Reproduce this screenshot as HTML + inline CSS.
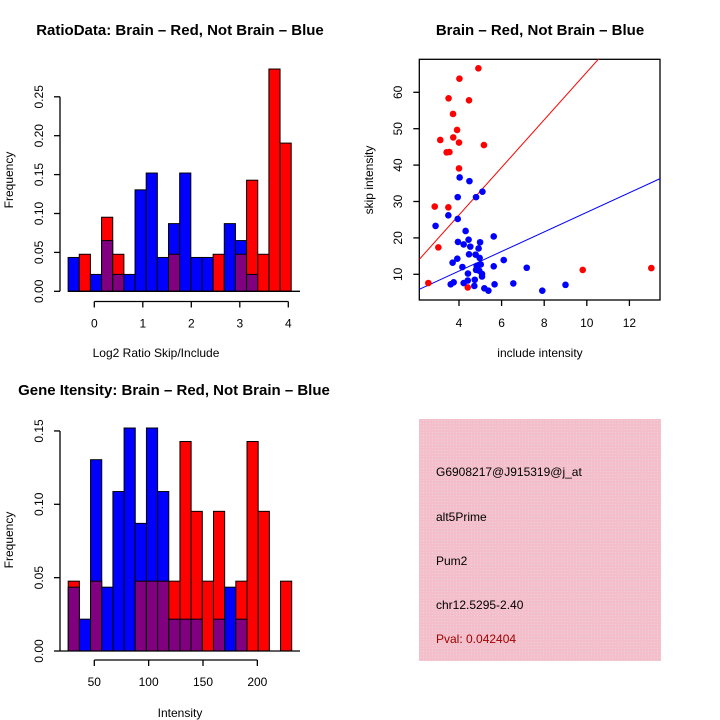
<!DOCTYPE html>
<html><head><meta charset="utf-8"><style>
html,body{margin:0;padding:0;background:#fff}
svg{display:block;font-family:"Liberation Sans",Arial,sans-serif}
</style></head><body>
<svg id="c" width="720" height="720" viewBox="0 0 720 720">
<defs>
<pattern id="hatch" width="3" height="3" patternUnits="userSpaceOnUse">
<rect width="3" height="3" fill="#f4bfcb"/><rect width="1" height="1" fill="#e9d3d8"/>
</pattern>
</defs>
<text x="180" y="35" text-anchor="middle" font-size="15" font-weight="bold">RatioData: Brain – Red, Not Brain – Blue</text>
<text x="540" y="35" text-anchor="middle" font-size="15" font-weight="bold">Brain – Red, Not Brain – Blue</text>
<text x="174" y="395" text-anchor="middle" font-size="15" font-weight="bold">Gene Itensity: Brain – Red, Not Brain – Blue</text>
<text x="156" y="357" text-anchor="middle" font-size="12">Log2 Ratio Skip/Include</text>
<text x="13" y="180" text-anchor="middle" font-size="12" transform="rotate(-90 13 180)">Frequency</text>
<text x="180" y="717" text-anchor="middle" font-size="12">Intensity</text>
<text x="13" y="540" text-anchor="middle" font-size="12" transform="rotate(-90 13 540)">Frequency</text>
<text x="540" y="357" text-anchor="middle" font-size="12">include intensity</text>
<text x="373" y="180" text-anchor="middle" font-size="12" transform="rotate(-90 373 180)">skip intensity</text>
<g>
<rect x="419" y="419" width="242" height="242" fill="url(#hatch)"/>
<text x="436" y="476" font-size="12">G6908217@J915319@j_at</text>
<text x="436" y="521" font-size="12">alt5Prime</text>
<text x="436" y="565" font-size="12">Pum2</text>
<text x="436" y="609" font-size="12">chr12.5295-2.40</text>
<text x="436" y="643" font-size="12" fill="#a00000">Pval: 0.042404</text>
</g>
</svg>
<script>
// ---- Ratio histogram data ----
const ratioBinStart = -0.54;
const ratioBinWidth = 0.23;
const ratioBlue = [0.0435,0,0.0217,0.0652,0.0217,0.0217,0.1304,0.152,0.0435,0.087,0.152,0.0435,0.0435,0,0.087,0.0652,0.0217,0,0,0];
const ratioRed  = [0,0.0476,0,0.0952,0.0476,0,0,0,0,0.0476,0,0,0,0.0476,0,0.0476,0.1428,0.0476,0.2857,0.1905];
const ratioXTicks = [0,1,2,3,4];
const ratioYTicks = [0,0.05,0.10,0.15,0.20,0.25];
const ratioYLabels = ["0.00","0.05","0.10","0.15","0.20","0.25"];
// ---- Intensity histogram data ----
const intBinStart = 26;
const intBinWidth = 10.28;
const intBlue = [0.0435,0.0217,0.1304,0.0435,0.1087,0.152,0.087,0.152,0.1087,0.0217,0.0217,0.0217,0,0.0217,0.0435,0.0217,0,0,0,0];
const intRed  = [0.0476,0,0.0476,0,0,0,0.0476,0.0476,0.0476,0.0476,0.1428,0.0952,0.0476,0.0952,0,0.0476,0.1428,0.0952,0,0.0476];
const intXTicks = [50,100,150,200];
const intYTicks = [0,0.05,0.10,0.15];
const intYLabels = ["0.00","0.05","0.10","0.15"];
// ---- Scatter data ----
const redX = [4.91,4.02,3.51,4.47,3.72,3.91,3.73,3.12,4.0,5.17,3.42,3.55,4.0,2.86,3.5,3.03,2.56,4.41,9.81,13.03];
const redY = [66.6,63.75,58.35,57.8,54.05,49.65,47.6,46.9,46.2,45.5,43.5,43.6,39.1,28.6,28.4,17.4,7.6,6.4,11.2,11.7];
const blueX = [4.03,4.49,5.1,3.94,4.8,3.5,3.94,2.9,4.31,5.63,3.95,4.45,4.99,4.22,4.53,4.92,4.47,4.78,4.97,3.92,6.1,3.7,4.16,4.83,5.02,5.63,7.18,4.8,4.95,4.42,5.08,5.08,4.74,4.41,3.75,3.61,4.22,4.72,5.67,6.55,9.0,5.19,5.38,7.91];
const blueY = [36.6,35.6,32.7,31.2,31.2,26.2,25.2,23.3,21.9,20.4,18.9,19.5,18.8,18.2,17.6,17.1,15.5,15.4,14.5,14.3,13.9,13.2,12.0,12.3,12.7,12.2,11.8,11.2,11.0,10.2,10.1,9.4,8.5,8.3,7.8,7.25,7.6,6.8,7.25,7.5,7.1,6.15,5.5,5.5];
const redFit = [0.13,6.54];
const blueFit = [0.13,2.69];
const scatXTicks = [4,6,8,10,12];
const scatYTicks = [10,20,30,40,50,60];

const svg = document.getElementById('c');
const NS = 'http://www.w3.org/2000/svg';
function mk(tag, attrs){ const e=document.createElementNS(NS,tag); for(const k in attrs) e.setAttribute(k,attrs[k]); svg.appendChild(e); return e; }

function histogram(blue, red, binStart, binW, sx, sy, x0, x1, y0, prefix, xt, yt, yl, xAxisY, yAxisX){
  for(let i=0;i<blue.length;i++){
    const a=sx(binStart+i*binW), b=sx(binStart+(i+1)*binW);
    const bv=blue[i], rv=red[i];
    const hi=Math.max(bv,rv), lo=Math.min(bv,rv);
    if(hi>0){
      const r=mk('rect',{x:a,y:sy(hi),width:b-a,height:sy(0)-sy(hi),fill:bv>=rv?'#0000ff':'#ff0000',stroke:'#000','stroke-width':1});
      
      
    }
    if(lo>0){
      const r=mk('rect',{x:a,y:sy(lo),width:b-a,height:sy(0)-sy(lo),fill:'#800080',stroke:'#000','stroke-width':1});
      
      
    }
  }
  const base=mk('line',{x1:x0,x2:x1,y1:sy(0),y2:sy(0),stroke:'#000','stroke-width':1.3});
  
  
  const xa=mk('line',{x1:sx(xt[0]),x2:sx(xt[xt.length-1]),y1:xAxisY,y2:xAxisY,stroke:'#000','stroke-width':1.3});
  
  
  xt.forEach(v=>{
    mk('line',{x1:sx(v),x2:sx(v),y1:xAxisY,y2:xAxisY+6,stroke:'#000','stroke-width':1.3});
    const t=mk('text',{x:sx(v),y:xAxisY+26,'font-size':12,'text-anchor':'middle'});
    t.textContent=v;
    
    
  });
  const ya=mk('line',{x1:yAxisX,x2:yAxisX,y1:sy(yt[0]),y2:sy(yt[yt.length-1]),stroke:'#000','stroke-width':1.3});
  
  
  yt.forEach((v,i)=>{
    mk('line',{x1:yAxisX-6,x2:yAxisX,y1:sy(v),y2:sy(v),stroke:'#000','stroke-width':1.3});
    const x=yAxisX-17, y=sy(v);
    const t=mk('text',{x:x,y:y,'font-size':12,'text-anchor':'middle',transform:`rotate(-90 ${x} ${y})`});
    t.textContent=yl[i];
    
    
  });
}

const rsx = v => 94.3 + v*48.5;
const rsy = v => 291.3 - v*778;
histogram(ratioBlue, ratioRed, ratioBinStart, ratioBinWidth, rsx, rsy, 68, 300, 291, 'ratio', ratioXTicks, ratioYTicks, ratioYLabels, 301.5, 60);

const isx = v => 94.3 + (v-50)*1.087;
const isy = v => 651 - v*1467;
histogram(intBlue, intRed, intBinStart, intBinWidth, isx, isy, 60, 300, 651, 'intensity', intXTicks, intYTicks, intYLabels, 660, 60);

const ssx = v => 459 + (v-4)*21.3;
const ssy = v => 274.3 - (v-10)*3.64;
const box=mk('rect',{x:419.3,y:59.3,width:240.7,height:240.7,fill:'none',stroke:'#000','stroke-width':1.3});


const cp=mk('clipPath',{id:'sc'});
const cr=document.createElementNS(NS,'rect');
cr.setAttribute('x',419.3);cr.setAttribute('y',59.3);cr.setAttribute('width',240.7);cr.setAttribute('height',240.7);
cp.appendChild(cr);
function fitLine(fit,color,name){
  const xa=2.136, xb=13.44;
  const l=mk('line',{x1:ssx(xa),y1:ssy(fit[0]+fit[1]*xa),x2:ssx(xb),y2:ssy(fit[0]+fit[1]*xb),stroke:color,'stroke-width':1,'clip-path':'url(#sc)'});
  
  
}
fitLine(redFit,'#ff0000','red-fit-line');
fitLine(blueFit,'#0000ff','blue-fit-line');
redX.forEach((x,i)=>{
  const c=mk('circle',{cx:ssx(x),cy:ssy(redY[i]),r:3.3,fill:'#ff0000'});
  
  
});
blueX.forEach((x,i)=>{
  const c=mk('circle',{cx:ssx(x),cy:ssy(blueY[i]),r:3.3,fill:'#0000ff'});
  
  
});
scatXTicks.forEach(v=>{
  mk('line',{x1:ssx(v),x2:ssx(v),y1:300,y2:306,stroke:'#000','stroke-width':1.3});
  const t=mk('text',{x:ssx(v),y:327,'font-size':12,'text-anchor':'middle'});
  t.textContent=v;
  
  
});
scatYTicks.forEach(v=>{
  mk('line',{x1:413.3,x2:419.3,y1:ssy(v),y2:ssy(v),stroke:'#000','stroke-width':1.3});
  const x=402, y=ssy(v);
  const t=mk('text',{x:x,y:y,'font-size':12,'text-anchor':'middle',transform:`rotate(-90 ${x} ${y})`});
  t.textContent=v;
  
  
});
</script>
</body></html>
